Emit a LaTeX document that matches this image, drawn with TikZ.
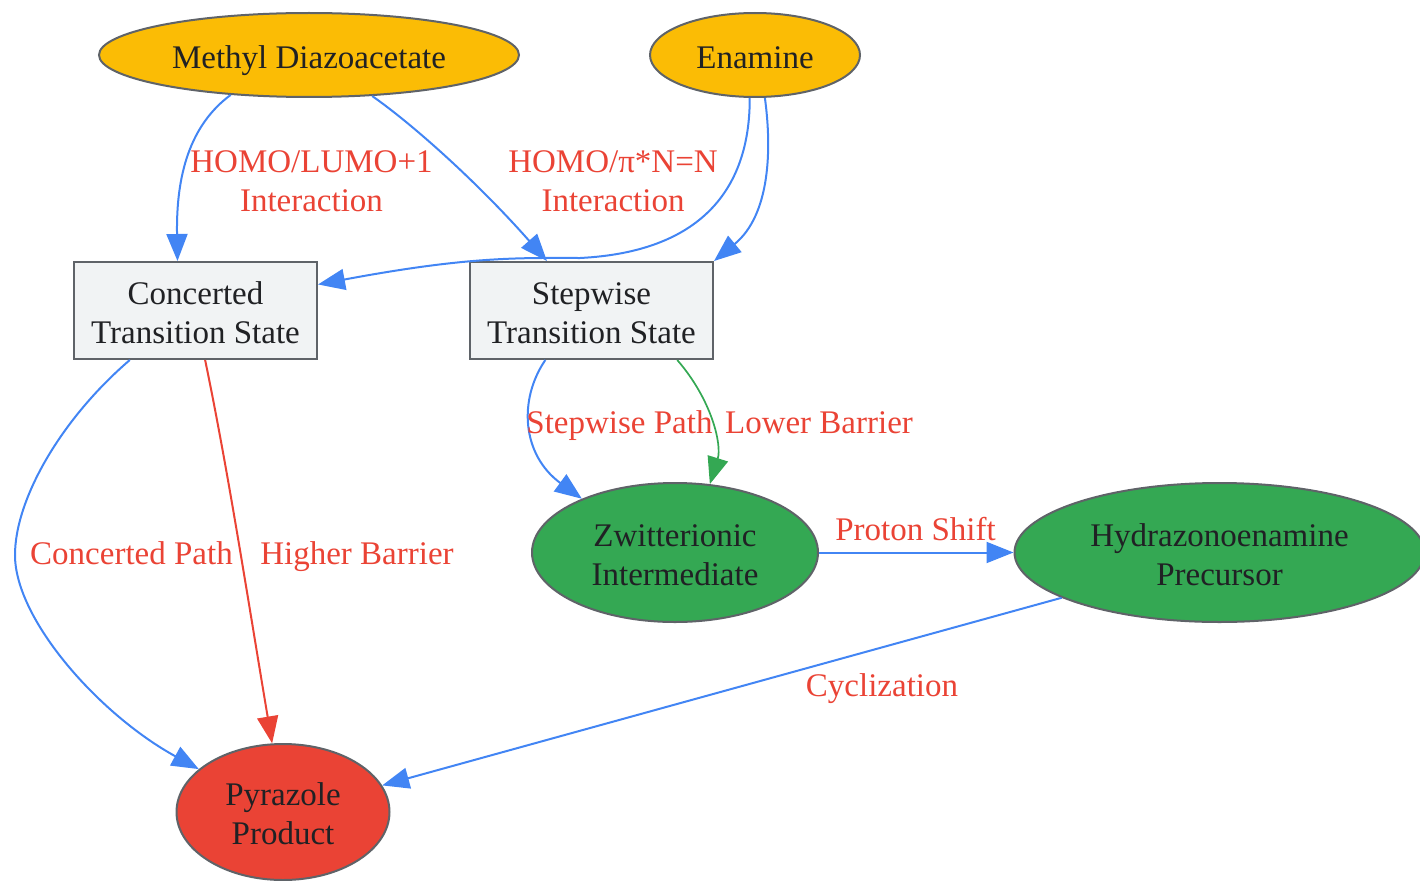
\documentclass[tikz,border=0pt]{standalone}
\usepackage{fontspec}
\setmainfont{Liberation Serif}
\usetikzlibrary{arrows.meta,shapes.geometric}
\definecolor{gold}{HTML}{FBBC05}
\definecolor{leaf}{HTML}{34A853}
\definecolor{tomato}{HTML}{EA4335}
\definecolor{sky}{HTML}{4285F4}
\definecolor{paper}{HTML}{F1F3F4}
\definecolor{rim}{HTML}{5F6368}
\definecolor{ink}{HTML}{202124}
\newcommand{\lup}{\rule{0pt}{0.82em}}
\begin{document}
\begin{tikzpicture}[x=1pt,y=-1pt]
\tikzstyle{every node}+=[inner sep=0pt,font=\fontsize{33}{39}\selectfont,text=ink,align=center]
\tikzstyle{reagent}=[ellipse,draw=rim,line width=2pt,fill=gold,minimum height=84pt,text depth=0pt]
\tikzstyle{tstate}=[rectangle,draw=rim,line width=2pt,fill=paper,minimum width=243pt,minimum height=97pt]
\tikzstyle{inter}=[ellipse,draw=rim,line width=2pt,fill=leaf,minimum width=286pt,minimum height=139pt]
\tikzstyle{prod}=[ellipse,draw=rim,line width=2pt,fill=tomato,minimum width=213pt,minimum height=136pt]
\tikzstyle{flow}=[draw=sky,line width=2pt,-{Triangle[length=27pt,width=21pt]}]
\tikzstyle{hot}=[flow,draw=tomato]
\tikzstyle{cool}=[flow,draw=leaf,line width=1.7pt]
\tikzstyle{elabel}=[text=tomato]
\useasboundingbox (0,0) rectangle (1420,880);
\node [reagent,minimum width=420pt] (mda) at (309,55) {\lup Methyl Diazoacetate};
\node [reagent,minimum width=210pt] (ena) at (755,55) {\lup Enamine};
\node [tstate] (cts) at (195.5,310.5) {\lup Concerted\\Transition State};
\node [tstate] (sts) at (591.5,310.5) {\lup Stepwise\\Transition State};
\node [inter] (zwi) at (675,552.5) {\lup Zwitterionic\\Intermediate};
\node [inter,minimum width=410pt] (hyd) at (1219.5,552.5) {\lup Hydrazonoenamine\\Precursor};
\node [prod] (pyr) at (283,812) {\lup Pyrazole\\Product};
\draw [flow] (mda.207) .. controls (190,125) and (176,175) .. (cts.110);
\draw [flow] (mda.327) .. controls (415,126) and (480,185) .. (sts.132);
\draw [flow] (ena.263) .. controls (750,190) and (700,252) .. (580,258) .. controls (520,258) and (470,256) .. (cts.12);
\draw [flow] (ena.283) .. controls (772,150) and (770,215) .. (sts.north east);
\draw [flow] (cts.217) .. controls (60,420) and (15,500) .. (15,555) .. controls (15,620) and (100,715) .. (pyr.153);
\draw [hot] (cts.281) .. controls (228,470) and (248,600) .. (pyr.99);
\draw [flow] (sts.227) .. controls (518,400) and (522,455) .. (zwi.150);
\draw [cool] (sts.330) .. controls (712,400) and (722,445) .. (zwi.63);
\draw [flow] (zwi) -- (hyd);
\draw [flow] (hyd.196) -- (pyr.15);
\node [elabel] (homolumo) at (311.5,181) {HOMO/LUMO+1\\Interaction};
\node [elabel] (homopi) at (613,181) {HOMO/π*N=N\\Interaction};
\node [elabel,anchor=base] (cpath) at (131.5,564) {Concerted Path};
\node [elabel,anchor=base] (hbar) at (357,564) {Higher Barrier};
\node [elabel,anchor=base] (spath) at (619.5,433) {Stepwise Path};
\node [elabel,anchor=base] (lbar) at (819,433) {Lower Barrier};
\node [elabel,anchor=base] (pshift) at (915.5,540) {Proton Shift};
\node [elabel,anchor=base] (cycl) at (882,696) {Cyclization};
\end{tikzpicture}
\end{document}
